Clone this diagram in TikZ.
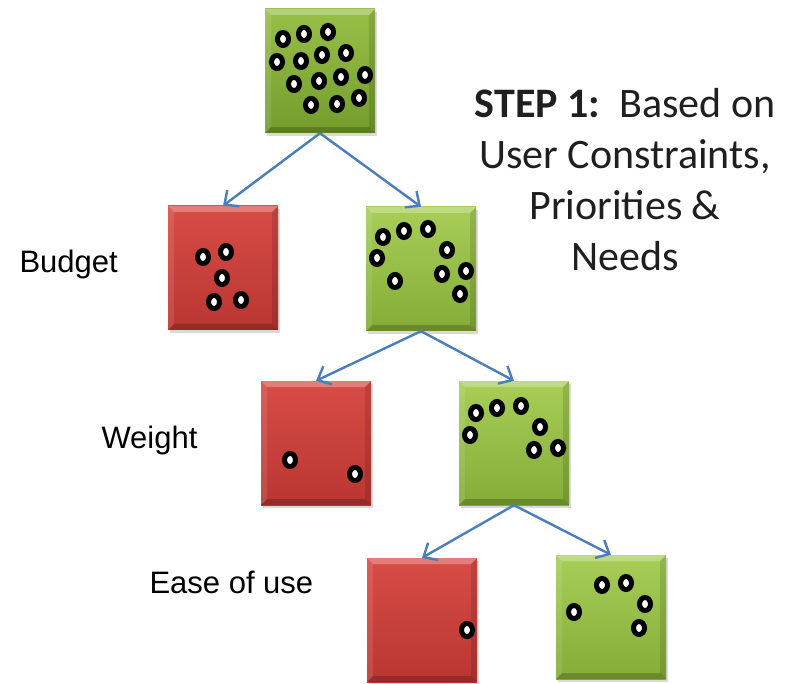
\documentclass[tikz,border=0pt]{standalone}
\usepackage{fontspec}
\setmainfont{Carlito}
\newfontfamily\labelfont{Liberation Sans}
\usetikzlibrary{arrows.meta,shapes.geometric,shadows}

\definecolor{keeptop}{RGB}{168,206,88}
\definecolor{keepbot}{RGB}{132,172,54}
\definecolor{roottop}{RGB}{152,192,72}
\definecolor{rootbot}{RGB}{116,156,44}
\definecolor{droptop}{RGB}{216,76,70}
\definecolor{dropbot}{RGB}{186,54,50}
\definecolor{linkblue}{RGB}{74,126,187}

\begin{document}
\begin{tikzpicture}[x=1pt,y=-1pt,
  box/.style={minimum width=110pt, minimum height=124pt, inner sep=0pt,
    drop shadow={shadow xshift=2pt, shadow yshift=-3pt, opacity=.3},
    path picture={
      % bevel: light top and left, dark bottom and right
      \fill[white,opacity=.28] (path picture bounding box.north west) -- (path picture bounding box.north east)
        -- ++(-6pt,-6pt) -- ([xshift=6pt,yshift=-6pt]path picture bounding box.north west) -- cycle;
      \fill[black,opacity=.2] (path picture bounding box.south west) -- (path picture bounding box.south east)
        -- ++(-6pt,6pt) -- ([xshift=6pt,yshift=6pt]path picture bounding box.south west) -- cycle;
      \fill[white,opacity=.1] (path picture bounding box.north west) -- ++(6pt,-6pt)
        -- ([xshift=6pt,yshift=6pt]path picture bounding box.south west) -- (path picture bounding box.south west) -- cycle;
      \fill[black,opacity=.12] (path picture bounding box.north east) -- ++(-6pt,-6pt)
        -- ([xshift=-6pt,yshift=6pt]path picture bounding box.south east) -- (path picture bounding box.south east) -- cycle;
    }},
  keep/.style={box, top color=keeptop, bottom color=keepbot},
  drop/.style={box, top color=droptop, bottom color=dropbot},
  seed/.style={ellipse, draw=black, fill=white, line width=5pt, minimum width=11pt, minimum height=13pt, inner sep=0pt},
  link/.style={draw=linkblue, line width=2.4pt, -{Straight Barb[length=11pt,width=20pt]}},
  crit/.style={font=\labelfont\fontsize{31}{37}\selectfont, anchor=base west}
]

  % Page size of the reference
  \useasboundingbox (0,0) rectangle (792,684);

  % The boxes of the tree
  \node[box, top color=roottop, bottom color=rootbot] (root) at (320,71) {};
  \node[drop] (budgetno) at (223,268) {};
  \node[keep] (budgetok) at (421,269) {};
  \node[drop] (weightno) at (316,443) {};
  \node[keep] (weightok) at (514,443) {};
  \node[drop] (easeno) at (422,620) {};
  \node[keep] (easeok) at (611,617) {};

  % The options left in each box
  \foreach \x/\y [count=\i] in {283/39, 304/34, 328/32, 277/62, 301/61, 322/55, 346/53,
      294/84, 319/81, 341/77, 365/75, 311/105, 337/104, 359/98}
    \node[seed] (root-\i) at (\x,\y) {};
  \foreach \x/\y [count=\i] in {203/257, 226/252, 222/278, 214/302, 241/300}
    \node[seed] (budgetno-\i) at (\x,\y) {};
  \foreach \x/\y [count=\i] in {383/237, 404/231, 428/229, 447/250, 377/258,
      395/281, 442/274, 466/271, 460/294}
    \node[seed] (budgetok-\i) at (\x,\y) {};
  \foreach \x/\y [count=\i] in {290/460, 355/474}
    \node[seed] (weightno-\i) at (\x,\y) {};
  \foreach \x/\y [count=\i] in {476/413, 497/408, 521/406, 540/427, 470/435, 534/450, 558/448}
    \node[seed] (weightok-\i) at (\x,\y) {};
  \node[seed] (easeno-1) at (467,630) {};
  \foreach \x/\y [count=\i] in {602/585, 626/583, 645/604, 574/612, 639/628}
    \node[seed] (easeok-\i) at (\x,\y) {};

  % Splits
  \draw[link] (root.south) -- (budgetno.north);
  \draw[link] (root.south) -- (budgetok.north);
  \draw[link] (budgetok.south) -- (weightno.north);
  \draw[link] (budgetok.south) -- (weightok.north);
  \draw[link] (weightok.south) -- (easeno.north);
  \draw[link] (weightok.south) -- (easeok.north);

  % Criteria
  \node[crit] (budget) at (16,273) {Budget};
  \node[crit] (weight) at (98,448) {Weight};
  \node[crit] (ease) at (146,593) {Ease of use};

  % Step note
  \node[align=center, text=black!88, font=\fontsize{42}{51}\selectfont] (step) at (625,180)
    {\textbf{STEP 1:}\ \ Based on\\User Constraints,\\Priorities \&\\Needs};

\end{tikzpicture}
\end{document}
